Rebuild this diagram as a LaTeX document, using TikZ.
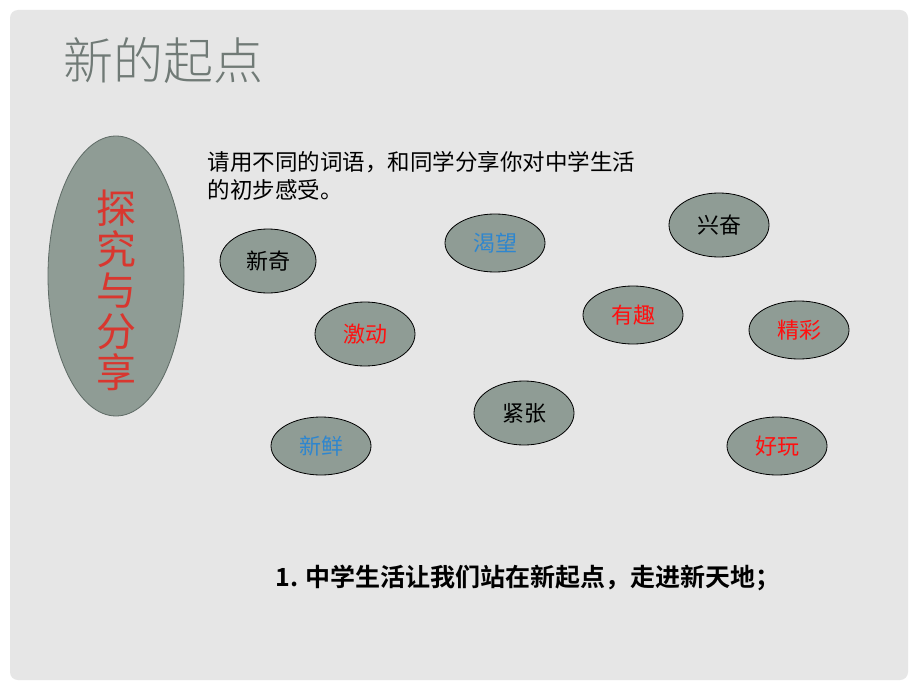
\documentclass[tikz,border=0pt]{standalone}
\usepackage{fontspec}
\usepackage{tikz}
\usetikzlibrary{shapes.geometric}
\newfontfamily\cjk{Noto Sans CJK SC}
\newfontfamily\cjkbold{Noto Sans CJK SC Bold}
\newfontfamily\cjklight{Noto Sans CJK SC Light}
\definecolor{slidegray}{HTML}{E6E6E6}
\definecolor{ovalfill}{HTML}{8F9C95}
\definecolor{ovaldraw}{HTML}{5E6A65}
\definecolor{titlegray}{HTML}{707A76}
\definecolor{wordblue}{HTML}{2E86CF}
\definecolor{wordred}{HTML}{FF1010}
\definecolor{headred}{HTML}{D8372F}
\newcommand{\wordW}{100pt}
\newcommand{\wordH}{60pt}

\begin{document}
\begin{tikzpicture}[x=1pt, y=-1pt,
		wordbubble/.style={ellipse, draw=black, thick, fill=ovalfill, minimum width=\wordW, minimum height=\wordH, inner sep=0pt, font=\cjk\fontsize{22}{22}\selectfont},
		bigoval/.style={ellipse, draw=ovaldraw, thick, fill=ovalfill, minimum width=136pt, minimum height=280pt, inner sep=0pt}]
	\useasboundingbox (0,0) rectangle (920,690);
	\fill[white] (0,0) rectangle (920,690);
	\fill[slidegray, rounded corners=8pt] (10,10) rectangle (908,680);
	% title
	\node[anchor=west, text=titlegray, font=\cjklight\fontsize{50}{50}\selectfont] (title) at (60,60) {新的起点};
	% left oval
	\node[bigoval] (share) at (116,276) {};
	\node[text=headred, align=center, font=\cjk\fontsize{40}{41}\selectfont] (sharetext) at (116,290) {探\\究\\与\\分\\享};
	% prompt
	\node[anchor=north west, align=left, font=\cjk\fontsize{22.5}{28}\selectfont] (prompt) at (204,148) {请用不同的词语，和同学分享你对中学生活\\的初步感受。};
	% words
	\node[wordbubble, minimum height=64pt, minimum width=96pt] (xinqi) at (268,261) {新奇};
	\node[wordbubble, minimum height=58pt] (kewang) at (495,243) {\textcolor{wordblue}{渴望}};
	\node[wordbubble, minimum height=64pt] (jidong) at (365,334) {\textcolor{wordred}{激动}};
	\node[wordbubble, minimum height=64pt] (jinzhang) at (524,413) {紧张};
	\node[wordbubble, minimum height=58pt] (xinxian) at (321,446) {\textcolor{wordblue}{新鲜}};
	\node[wordbubble, minimum height=64pt] (xingfen) at (719,225) {兴奋};
	\node[wordbubble, minimum height=58pt] (youqu) at (633,315) {\textcolor{wordred}{有趣}};
	\node[wordbubble, minimum height=58pt] (jingcai) at (799,330) {\textcolor{wordred}{精彩}};
	\node[wordbubble, minimum height=58pt] (haowan) at (777,446) {\textcolor{wordred}{好玩}};
	% summary
	\node[anchor=west, font=\cjkbold\fontsize{25}{25}\selectfont] (summary) at (272,578) {1. 中学生活让我们站在新起点，走进新天地；};
\end{tikzpicture}
\end{document}
